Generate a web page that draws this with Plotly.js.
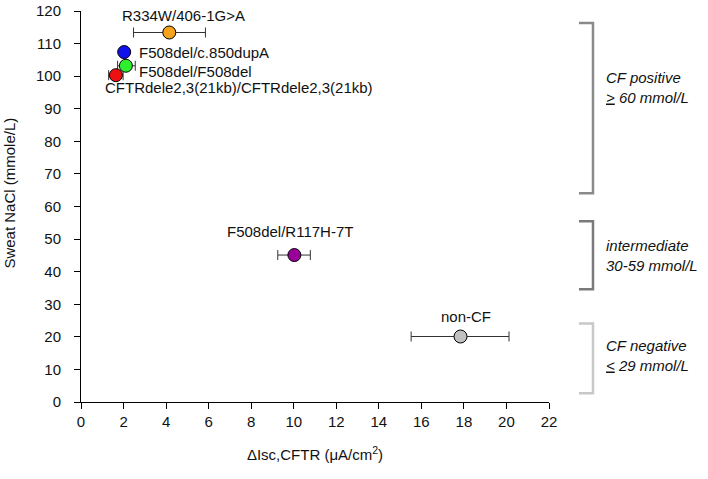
<!DOCTYPE html>
<html>
<head>
<meta charset="utf-8">
<script src="https://cdn.plot.ly/plotly-3.0.1.min.js"></script>
<style>
  body { margin: 0; background: #fff; }
  #chart { width: 708px; height: 479px; }
</style>
</head>
<body>
<div id="chart"></div>
<script>
// genotypes
var genotypes = ['R334W/406-1G>A', 'F508del/c.850dupA', 'F508del/F508del',
                 'CFTRdele2,3(21kb)/CFTRdele2,3(21kb)', 'F508del/R117H-7T', 'non-CF'];
var iscCFTR = [4.15, 2.03, 2.11, 1.64, 10.03, 17.84];
var errPlus = [1.70, 0, 0.44, 0.34, 0.75, 2.28];
var errMinus = [1.68, 0, 0.39, 0.34, 0.78, 2.32];
var sweatNaCl = [113.4, 107.4, 103.2, 100.3, 45.1, 20.1];
var dotColors = ['#f5a21c', '#1111ee', '#2eee2e', '#ee1111', '#990099', '#c0c0c0'];

// diagnostic ranges shown as brackets on the right
var rangeLabels = ['<i>CF positive</i><br><i><u>></u> 60 mmol/L</i>',
                   '<i>intermediate</i><br><i>30-59 mmol/L</i>',
                   '<i>CF negative</i><br><i><u><</u> 29 mmol/L</i>'];
var rangeTop = [116.3, 55.5, 24.1];
var rangeBottom = [64.1, 34.6, 2.7];
var rangeLabelY = [96.6, 45.0, 14.3];
var rangeColors = ['#8a8a8a', '#7a7a7a', '#c8c8c8'];

// label placement (pixels relative to the dot)
var labelStyle = [
  {xanchor: 'center', xshift: 14, yshift: 17},
  {xanchor: 'left', xshift: 13, yshift: 0},
  {xanchor: 'left', xshift: 11, yshift: -6},
  {xanchor: 'left', xshift: -13, yshift: -12},
  {xanchor: 'center', xshift: -4, yshift: 24},
  {xanchor: 'center', xshift: 5, yshift: 20}
];

var trace = {
  x: iscCFTR,
  y: sweatNaCl,
  type: 'scatter',
  mode: 'markers',
  marker: {size: 13, color: dotColors, line: {color: '#000', width: 1}},
  error_x: {type: 'data', symmetric: false, array: errPlus, arrayminus: errMinus,
            color: '#333', thickness: 1, width: 5},
  hoverinfo: 'skip'
};

var annotations = genotypes.map(function(g, i) {
  return {
    x: iscCFTR[i], y: sweatNaCl[i], xref: 'x', yref: 'y',
    text: g, showarrow: false,
    xanchor: labelStyle[i].xanchor, yanchor: 'middle',
    xshift: labelStyle[i].xshift, yshift: labelStyle[i].yshift,
    font: {size: 15, color: '#111'}
  };
});

// y title placed by hand, it sits a bit above the plot centre
annotations.push({
  x: -0.153, xref: 'paper', y: 0.534, yref: 'paper',
  text: 'Sweat NaCl (mmole/L)', textangle: -90, showarrow: false,
  xanchor: 'center', yanchor: 'middle', font: {size: 15, color: '#111'}
});

var shapes = [];
rangeLabels.forEach(function(lbl, i) {
  shapes.push({
    type: 'path', xref: 'paper', yref: 'y',
    path: 'M 1.064 ' + rangeTop[i] + ' L 1.094 ' + rangeTop[i] +
          ' L 1.094 ' + rangeBottom[i] + ' L 1.064 ' + rangeBottom[i],
    line: {color: rangeColors[i], width: 2.5}
  });
  annotations.push({
    x: 1.117, xref: 'paper', y: rangeLabelY[i], yref: 'y',
    text: lbl, showarrow: false, xanchor: 'left', yanchor: 'middle', align: 'left',
    font: {size: 15, color: '#111'}
  });
});

var layout = {
  width: 708, height: 479,
  margin: {l: 81, r: 159, t: 11, b: 77},
  paper_bgcolor: '#fff', plot_bgcolor: '#fff',
  font: {family: 'Liberation Sans, Arial, sans-serif', size: 15, color: '#111'},
  showlegend: false,
  xaxis: {
    range: [0, 22], dtick: 2, tick0: 0,
    showgrid: false, zeroline: false,
    showline: true, linecolor: '#000', linewidth: 1,
    ticks: 'outside', ticklen: 6, tickcolor: '#000',
    tickfont: {size: 15},
    title: {text: '\u0394Isc,CFTR (\u03bcA/cm<sup>2</sup>)', standoff: 20, font: {size: 15}}
  },
  yaxis: {
    range: [0, 120], dtick: 10, tick0: 0,
    showgrid: false, zeroline: false,
    showline: true, linecolor: '#000', linewidth: 1,
    ticks: 'outside', ticklen: 6, tickcolor: '#000',
    tickfont: {size: 15}, ticklabelstandoff: 10
  },
  shapes: shapes,
  annotations: annotations
};

Plotly.newPlot('chart', [trace], layout, {displayModeBar: false, staticPlot: true});
</script>
</body>
</html>
